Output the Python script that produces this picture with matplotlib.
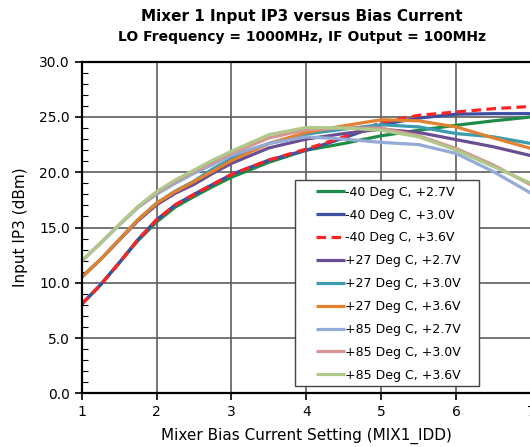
import matplotlib
matplotlib.use("Agg")
import matplotlib.pyplot as plt
from matplotlib.patches import Rectangle
from matplotlib.ticker import MultipleLocator, FormatStrFormatter

plt.rcParams['font.family'] = ['DejaVu Sans']

bias = [1, 1.25, 1.5, 1.75, 2, 2.25, 2.5, 2.75, 3, 3.5, 4, 4.5, 5, 5.5, 6, 6.5, 7]

m40_27 = [8.07, 9.8, 11.8, 13.8, 15.5, 16.85, 17.8, 18.7, 19.55, 20.9, 22.0, 22.6, 23.3, 23.8, 24.25, 24.65, 25.0]
m40_30 = [8.07, 9.8, 11.8, 13.9, 15.7, 17.05, 18.0, 18.9, 19.8, 21.1, 22.0, 23.1, 24.3, 24.9, 25.25, 25.3, 25.3]
m40_36 = [8.07, 9.8, 11.8, 13.9, 15.7, 17.05, 18.0, 18.9, 19.8, 21.1, 22.1, 23.2, 24.5, 25.15, 25.45, 25.75, 25.95]
p27_27 = [10.5, 12.1, 13.85, 15.6, 17.05, 18.1, 18.9, 19.9, 20.8, 22.2, 23.0, 23.5, 23.9, 23.6, 22.95, 22.3, 21.5]
p27_30 = [10.5, 12.1, 13.9, 15.7, 17.2, 18.3, 19.2, 20.3, 21.25, 22.6, 23.45, 23.9, 24.3, 24.1, 23.5, 23.2, 22.6]
p27_36 = [10.5, 12.1, 13.9, 15.7, 17.2, 18.25, 19.15, 20.1, 21.05, 22.6, 23.6, 24.2, 24.75, 24.65, 24.1, 23.1, 22.15]
p85_27 = [11.95, 13.55, 15.2, 16.8, 18.0, 19.0, 19.9, 20.7, 21.55, 22.6, 23.2, 23.0, 22.7, 22.5, 21.7, 20.05, 18.1]
p85_30 = [11.95, 13.6, 15.25, 16.85, 18.15, 19.2, 20.1, 20.9, 21.7, 23.1, 23.85, 24.0, 24.0, 23.3, 22.15, 20.65, 18.85]
p85_36 = [12.0, 13.6, 15.25, 16.9, 18.25, 19.3, 20.2, 21.1, 21.9, 23.4, 24.05, 24.0, 23.8, 23.2, 22.0, 20.5, 19.0]

labels = ["-40 Deg C, +2.7V", "-40 Deg C, +3.0V", "-40 Deg C, +3.6V",
          "+27 Deg C, +2.7V", "+27 Deg C, +3.0V", "+27 Deg C, +3.6V",
          "+85 Deg C, +2.7V", "+85 Deg C, +3.0V", "+85 Deg C, +3.6V"]

series = [m40_27, m40_30, m40_36, p27_27, p27_30, p27_36, p85_27, p85_30, p85_36]
colors = ["#1d8c47", "#3c4fa2", "#ff2323", "#6a4e93", "#3a9bb1",
          "#e2812f", "#94aad7", "#d59593", "#afc98b"]
styles = ["-", "-", (0, (3, 1.7)), "-", "-", "-", "-", "-", "-"]

fig = plt.figure(figsize=(5.30, 4.47), dpi=100)
ax = fig.add_axes([81.7 / 530, 1 - 393.3 / 447, (531 - 81.7) / 530, (393.3 - 61.7) / 447])

ax.set_xlim(1, 7)
ax.set_ylim(0, 30)

ax.grid(True, which='major', color='#5e5e5e', linewidth=1.2)
ax.set_axisbelow(True)

for ys, c, ls, lab in zip(series, colors, styles, labels):
    ax.plot(bias, ys, color=c, linestyle=ls, linewidth=2.3, label=lab,
            solid_capstyle='butt', dash_capstyle='butt', solid_joinstyle='round')

ax.xaxis.set_major_locator(MultipleLocator(1))
ax.yaxis.set_major_locator(MultipleLocator(5))
ax.yaxis.set_minor_locator(MultipleLocator(1))
ax.yaxis.set_major_formatter(FormatStrFormatter('%.1f'))

ax.tick_params(axis='y', which='major', direction='out', length=5, width=1.2, labelsize=10)
ax.tick_params(axis='y', which='minor', direction='in', length=4, width=0.8)
ax.tick_params(axis='x', which='major', direction='out', length=5, width=1.2, labelsize=10)

for s in ['left', 'bottom', 'top']:
    ax.spines[s].set_color('black')
    ax.spines[s].set_linewidth(1.6)
ax.spines['right'].set_visible(False)

ax.set_xlabel("Mixer Bias Current Setting (MIX1_IDD)", fontsize=11, labelpad=6)
ax.set_ylabel("Input IP3 (dBm)", fontsize=11, labelpad=8)

fig.text(302 / 530, 1 - 17 / 447, "Mixer 1 Input IP3 versus Bias Current",
         ha='center', va='center', fontsize=11, fontweight='bold')
fig.text(302 / 530, 1 - 37 / 447, "LO Frequency = 1000MHz, IF Output = 100MHz",
         ha='center', va='center', fontsize=10, fontweight='bold')

# legend frame
frame = Rectangle((0.474, 0.022), 0.884 - 0.474, 0.643 - 0.022, transform=ax.transAxes,
                  facecolor='white', edgecolor='#444444', linewidth=1.0, zorder=5)
ax.add_patch(frame)

leg = ax.legend(loc='upper left', bbox_to_anchor=(0.5215, 0.626),
                fontsize=9, frameon=False, handlelength=2.3,
                handletextpad=0.05, borderpad=0, labelspacing=0.79,
                borderaxespad=0)
leg.set_zorder(6)

fig.savefig("out.png", dpi=100)
